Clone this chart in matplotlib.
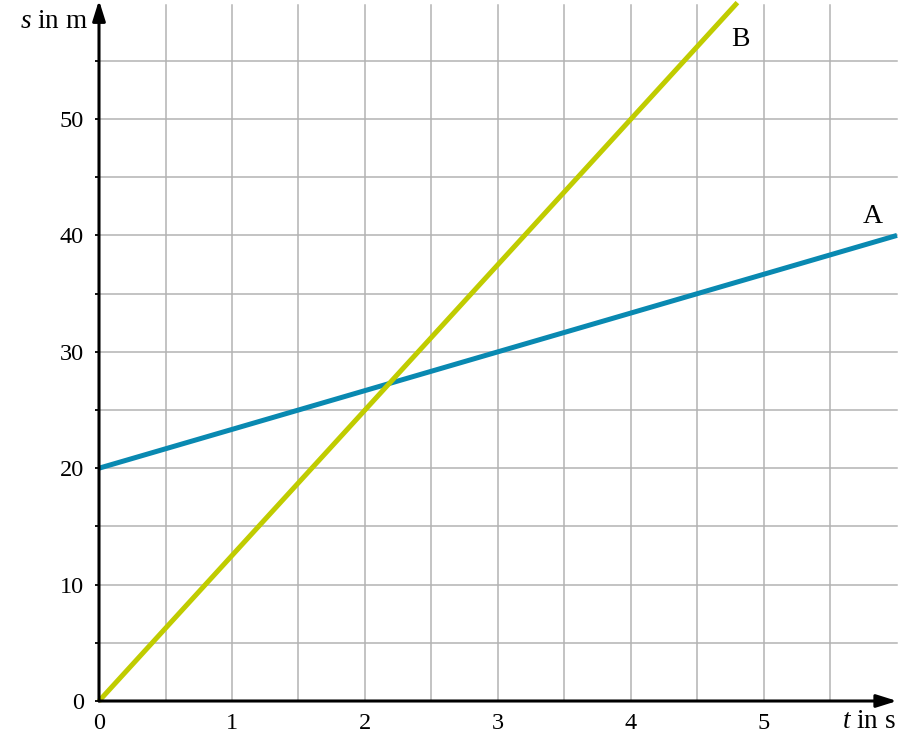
import matplotlib
matplotlib.use("Agg")
import matplotlib.pyplot as plt
import numpy as np

# time (s) and distance (m)
t_a = [0, 6]
s_a = [20, 40]
t_b = [0, 4.8]
s_b = [0, 60]

x_labels = [0, 1, 2, 3, 4, 5]
y_labels = [0, 10, 20, 30, 40, 50]

col_a = '#0989b1'
col_b = '#c0cc00'

plt.rcParams['font.family'] = ['Liberation Serif', 'DejaVu Serif']
plt.rcParams['font.size'] = 17.5
plt.rcParams['mathtext.fontset'] = 'custom'
plt.rcParams['mathtext.it'] = 'Liberation Serif:italic'
plt.rcParams['mathtext.rm'] = 'Liberation Serif'

fig = plt.figure(figsize=(9.02, 7.34), dpi=100)
ax = fig.add_axes([99 / 902, 33 / 734, 798 / 902, 698.4 / 734])
ax.set_xlim(0, 6)
ax.set_ylim(0, 60)

# grid
for gx in np.arange(0.5, 6, 0.5):
    ax.plot([gx, gx], [0, 59.8], color='#b3b3b3', lw=1.1, zorder=1, clip_on=False)
for gy in np.arange(5, 60, 5):
    ax.plot([0, 6], [gy, gy], color='#b3b3b3', lw=1.1, zorder=1, clip_on=False)

for sp in ax.spines.values():
    sp.set_visible(False)

ax.set_xticks(x_labels)
ax.set_xticklabels([str(v) for v in x_labels])
ax.tick_params(axis='x', length=0, pad=8.5)
ax.set_yticks(np.arange(0, 60, 5), minor=True)
ax.set_yticks(y_labels)
ax.set_yticklabels([str(v) for v in y_labels])
ax.tick_params(axis='y', which='both', length=3, width=1.3, pad=8, direction='out')

# axes with arrows
ax.annotate('', xy=(6.0, 0), xytext=(0, 0), xycoords='data',
            arrowprops=dict(arrowstyle='-|>,head_length=0.7,head_width=0.22', color='black', lw=2.2,
                            shrinkA=0, shrinkB=0), annotation_clip=False, zorder=5)
ax.annotate('', xy=(0, 60.2), xytext=(0, 0), xycoords='data',
            arrowprops=dict(arrowstyle='-|>,head_length=0.7,head_width=0.22', color='black', lw=2.2,
                            shrinkA=0, shrinkB=0), annotation_clip=False, zorder=5)

ax.plot(t_a, s_a, color=col_a, lw=3.6, solid_capstyle='butt', zorder=3, clip_on=False)
ax.plot(t_b, s_b, color=col_b, lw=3.6, solid_capstyle='butt', zorder=3, clip_on=False)

ax.text(5.82, 41.6, 'A', ha='center', va='center', fontsize=20)
ax.text(4.82, 56.8, 'B', ha='center', va='center', fontsize=20)

ax.text(-0.08, 58.4, r'$s$ in m', ha='right', va='center', fontsize=19.5)
ax.text(5.99, -1.75, r'$t$ in s', ha='right', va='center', fontsize=19.5)

fig.savefig('out.png', dpi=100)
